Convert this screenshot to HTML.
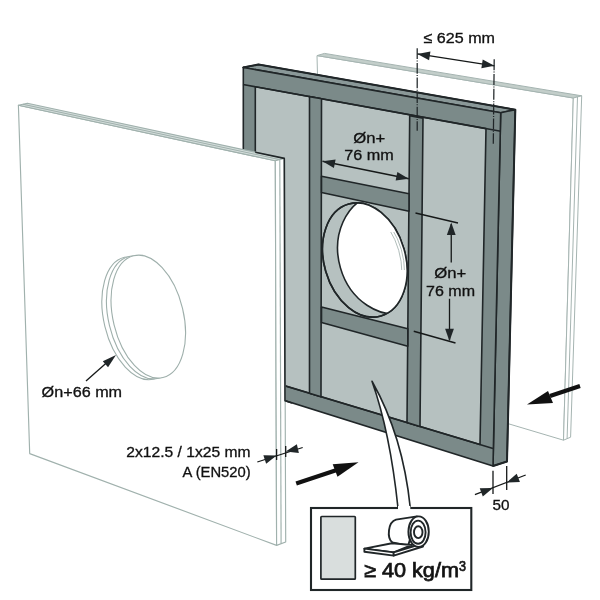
<!DOCTYPE html>
<html><head><meta charset="utf-8">
<style>
html,body{margin:0;padding:0;background:#fff;width:600px;height:600px;overflow:hidden}
svg{display:block;will-change:transform}
text{font-family:"Liberation Sans",sans-serif;fill:#111}
</style></head><body>
<svg width="600" height="600" viewBox="0 0 600 600">
<g stroke="#a5b4b1" stroke-width="1" stroke-linejoin="round">
  <polygon points="317,55.6 573.3,98 563.5,440.2 325,369" fill="#fff"/>
  <polygon points="317,55.6 324.5,53.4 581.7,95.8 573.3,98" fill="#c3ceca"/>
  <polygon points="573.3,98 581.7,95.8 570.6,437.2 563.5,440.2" fill="#fff"/>
  <line x1="577.5" y1="97" x2="567.1" y2="438.7"/>
</g>
<g stroke="#202628" stroke-width="1.6" stroke-linejoin="round">
  <polygon points="243,67.5 258.5,64.5 515.3,109.7 500.7,112.7" fill="#8a9898"/>
  <polygon points="500.7,112.7 515.3,109.7 507,461.5 493,466" fill="#7b8a89"/>
  <polygon points="243.3,67.5 500.7,112.7 493,466 243.3,387.6" fill="#7b8a89"/>
  <polygon points="255.3,86.7 486,128.6 480,444.4 255.3,377" fill="#b6c1c0"/>
  <line x1="243" y1="84.5" x2="500.7" y2="131.3"/>
  <line x1="285" y1="385.8" x2="493" y2="448.5"/>
  <polygon points="309.5,96.6 321.5,98.8 321,396.7 309.5,393.2" fill="#7b8a89"/>
  <polygon points="409.7,115.7 423,118.2 420,426.4 407,422.5" fill="#7b8a89"/>
  <polygon points="321.5,176.25 409,193.75 409,211.25 321.5,192.5" fill="#7b8a89"/>
  <polygon points="321.5,307 407.8,328.75 407.8,346.25 321.5,322.5" fill="#7b8a89"/>
  <ellipse cx="364.8" cy="260" rx="40.7" ry="58.2" transform="rotate(-16.1 364.8 260)" fill="#b6c1c0"/>
</g>
<polyline points="243,67.5 258.5,64.5 515.3,109.7 507,461.5 493,466" fill="none" stroke="#202628" stroke-width="2.0" stroke-linejoin="round"/>
<defs><clipPath id="h1"><ellipse cx="364.8" cy="260" rx="40.7" ry="58.2" transform="rotate(-16.1 364.8 260)"/></clipPath></defs>
<g clip-path="url(#h1)">
  <ellipse cx="390.2" cy="253.5" rx="51.8" ry="61.25" transform="rotate(-16.1 390.2 253.5)" fill="#fff" stroke="#202628" stroke-width="1.6"/>
  <g fill="none" stroke="#a5b4b1" stroke-width="0.8" clip-path="url(#arc)">
  <ellipse cx="362.2" cy="260.8" rx="40.7" ry="58.2" transform="rotate(-16.1 362.2 260.8)"/>
  <ellipse cx="359.6" cy="261.6" rx="40.7" ry="58.2" transform="rotate(-16.1 359.6 261.6)"/>
  </g>
</g>
<defs><clipPath id="arc"><rect x="385" y="232" width="30" height="38"/></clipPath></defs>
<ellipse cx="364.8" cy="260" rx="40.7" ry="58.2" transform="rotate(-16.1 364.8 260)" fill="none" stroke="#202628" stroke-width="1.6"/>
<g stroke="#202628" stroke-width="1.25" fill="none">
  <line x1="417.2" y1="48.3" x2="417.2" y2="130.8" stroke-dasharray="10.8 1.4 1.0 1.4"/>
  <line x1="494.2" y1="59.2" x2="493.3" y2="143.7" stroke-dasharray="11 1.4 1.0 1.4"/>
</g>
<g stroke="#a0b1ad" stroke-width="1.15" stroke-linejoin="round">
  <polygon points="18.4,105.2 275.3,160.8 276.6,545.4 29.7,453.6" fill="#fff"/>
  <polygon points="18.4,105.2 27.4,103.2 284.3,158.4 275.3,160.8" fill="#d6dfdd"/>
  <line x1="22.9" y1="104.2" x2="279.8" y2="159.6"/>
  <polygon points="275.3,160.8 284.3,158.4 285.7,542 276.6,545.4" fill="#fff"/>
  <line x1="279.8" y1="159.6" x2="281.1" y2="543.7"/>
</g>
<polyline points="255.3,152.3 284.3,158.4 285,400.7 292,402.9" fill="none" stroke="#202628" stroke-width="1.6" stroke-linejoin="round"/>
<g fill="#fff" stroke="#9eafab" stroke-width="1.1">
  <ellipse cx="139.1" cy="318.2" rx="35.2" ry="62.6" transform="rotate(-13.5 139.1 318.2)"/>
  <ellipse cx="143.7" cy="317.4" rx="35.2" ry="62.6" transform="rotate(-13.5 143.7 317.4)"/>
  <ellipse cx="148.3" cy="316.6" rx="35.2" ry="62.6" transform="rotate(-13.5 148.3 316.6)"/>
</g>
<g stroke="#151818" stroke-width="1.3" fill="none">
<line x1="417.4" y1="53.9" x2="494.4" y2="65.8"/>
<line x1="322.5" y1="161.25" x2="408.75" y2="178.75"/>
<line x1="451.25" y1="224" x2="451.25" y2="262.5"/>
<line x1="449.5" y1="298.75" x2="449.5" y2="340"/>
<line x1="415.5" y1="213" x2="458" y2="223"/>
<line x1="413.75" y1="331.25" x2="455.5" y2="343"/>
<line x1="86" y1="381" x2="108" y2="361.5"/>
<line x1="474.9" y1="494.7" x2="525.7" y2="475"/>
<line x1="493" y1="470.8" x2="493" y2="494.1"/>
<line x1="506.7" y1="466" x2="506.7" y2="490"/>
<line x1="257.3" y1="462" x2="302.7" y2="447.5"/>
<line x1="276.6" y1="449" x2="276.6" y2="460"/>
<line x1="285.7" y1="446" x2="285.7" y2="457"/>
</g>
<g fill="#202628" stroke="none">
<polygon points="417.40,53.90 430.43,51.46 429.08,60.16"/>
<polygon points="494.40,65.80 481.37,68.24 482.72,59.54"/>
<polygon points="322.50,161.25 335.63,159.42 333.88,168.05"/>
<polygon points="408.75,178.75 395.62,180.58 397.37,171.95"/>
<polygon points="451.25,222.50 455.65,235.00 446.85,235.00"/>
<polygon points="449.50,341.25 445.10,328.75 453.90,328.75"/>
<polygon points="116.00,355.00 108.04,367.19 102.80,361.15"/>
<polygon points="493.00,488.00 482.80,496.47 479.75,488.21"/>
<polygon points="506.70,482.50 516.71,473.82 519.94,482.00"/>
<polygon points="276.60,455.50 266.16,463.66 263.35,455.32"/>
<polygon points="285.70,451.50 296.86,444.35 298.88,452.92"/>
</g>
<text x="423.5" y="42.8" font-size="15.3" textLength="71.5" lengthAdjust="spacingAndGlyphs" stroke="#111" stroke-width="0.32">≤ 625 mm</text>
<text x="353.2" y="143.1" font-size="15.3" textLength="32.0" lengthAdjust="spacingAndGlyphs" stroke="#111" stroke-width="0.32">Øn+</text>
<text x="344.2" y="160.4" font-size="15.3" textLength="49.5" lengthAdjust="spacingAndGlyphs" stroke="#111" stroke-width="0.32">76 mm</text>
<text x="434.3" y="277.9" font-size="15.3" textLength="32.0" lengthAdjust="spacingAndGlyphs" stroke="#111" stroke-width="0.32">Øn+</text>
<text x="426.0" y="295.9" font-size="15.3" textLength="49.0" lengthAdjust="spacingAndGlyphs" stroke="#111" stroke-width="0.32">76 mm</text>
<text x="41.6" y="396.6" font-size="15.3" textLength="80.5" lengthAdjust="spacingAndGlyphs" stroke="#111" stroke-width="0.32">Øn+66 mm</text>
<text x="126.3" y="457.2" font-size="15.3" textLength="124.2" lengthAdjust="spacingAndGlyphs" stroke="#111" stroke-width="0.32">2x12.5 / 1x25 mm</text>
<text x="182.5" y="477.1" font-size="15.3" textLength="68.2" lengthAdjust="spacingAndGlyphs" stroke="#111" stroke-width="0.32">A (EN520)</text>
<text x="492.4" y="509.7" font-size="15.3" textLength="17.0" lengthAdjust="spacingAndGlyphs" stroke="#111" stroke-width="0.32">50</text>
<g fill="#111" stroke="none">
  <path d="M296.2,483.5 L336,470.2" stroke="#111" stroke-width="4.3"/>
  <polygon points="358.5,462.2 332.7,464.3 337.5,476.7"/>
  <path d="M580,386 L550,396" stroke="#111" stroke-width="4.3"/>
  <polygon points="527,404.4 548,391 553,403"/>
</g>
<path d="M372,381.25 Q390,432 398,508 L410.3,508 Q403,436 372,381.25 Z" fill="#fff" stroke="#202628" stroke-width="1.6" stroke-linejoin="round"/>
<rect x="311" y="508" width="160.3" height="82" fill="#fff" stroke="#202628" stroke-width="2.1"/>
<rect x="398" y="506" width="12.3" height="4" fill="#fff"/>
<rect x="320.9" y="516.5" width="34.4" height="62.7" rx="0.8" fill="#d9dedd" stroke="#202628" stroke-width="1.7"/>
<text x="364" y="577.4" font-size="20" stroke="#1a1a1a" stroke-width="0.75" textLength="95" lengthAdjust="spacingAndGlyphs">≥ 40 kg/m</text>
<text x="459" y="570.7" font-size="14" stroke="#1a1a1a" stroke-width="0.7" textLength="7" lengthAdjust="spacingAndGlyphs">3</text>
<g stroke="#202628" stroke-width="1.9" fill="#fff" stroke-linejoin="round">
  <path d="M417,516.4 L396,519.6 C388,522 386.5,538 392.5,542.5 L408,546 Z"/>
  <polygon points="364.4,548.6 392,543.2 412,545 393.7,552.4"/>
  <polygon points="364.4,548.6 393.7,552.4 393.7,555.6 364.4,551.8"/>
  <path d="M393.7,552.4 L421,544 L423,546.5 L393.7,555.6 Z"/>
  <ellipse cx="418.6" cy="531.7" rx="10.2" ry="15.3"/>
  <ellipse cx="418.1" cy="532.2" rx="7.5" ry="11.6"/>
  <ellipse cx="418.25" cy="532.2" rx="4.25" ry="5.9"/>
</g>
</svg>
</body></html>
